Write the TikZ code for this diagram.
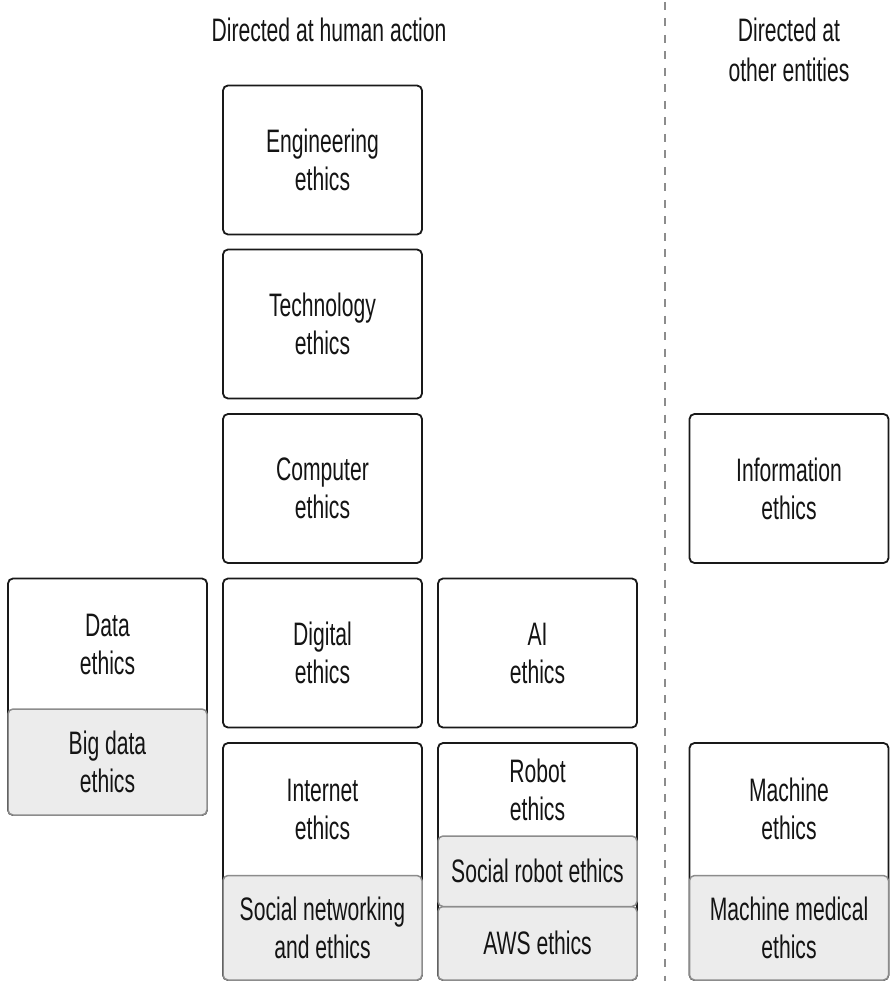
\documentclass[tikz,border=0pt]{standalone}
\usepackage{fontspec}
\setmainfont[FakeStretch=0.65]{Liberation Sans}
\usetikzlibrary{positioning}

\begin{document}
\begin{tikzpicture}[x=1pt, y=-1pt,
  txt/.style={align=center, inner sep=0pt, text=black!92, font=\fontsize{32.5}{38}\selectfont},
  heading/.style={txt, anchor=north, font=\fontsize{32.5}{40}\selectfont},
  box/.style={draw=black!90, line width=1.8pt, rounded corners=5pt, fill=white, minimum width=199pt, minimum height=149pt, inner sep=0pt, outer sep=0pt},
  subbox/.style={box, draw=black!45, line width=1.5pt, fill=black!7.5, anchor=south}]
  \useasboundingbox (0,0) rectangle (889,981);
  \node[heading] (human) at (329,18) {Directed at human action};
  \node[heading] (other) at (789,18) {Directed at\\other entities};
  \coordinate (divtop) at (665,2);
  \coordinate (divbot) at (665,981);
  \draw [draw=black!45, line width=1.3pt, dash pattern=on 8pt off 8.5pt] (divtop) -- (divbot);

  \node[box, txt] (eng) at (322.5,160) {Engineering\\ethics};
  \node[box, txt] (tech) at (322.5,324) {Technology\\ethics};
  \node[box, txt] (comp) at (322.5,488.5) {Computer\\ethics};
  \node[box, txt] (info) at (789,488.5) {Information\\ethics};
  \node[box, txt] (digital) at (322.5,653) {Digital\\ethics};
  \node[box, txt] (ai) at (537.5,653) {AI\\ethics};

  \node[box, minimum height=236.5pt] (data) at (107.5,696.75) {};
  \node[subbox, txt, minimum height=106pt] (bigdata) at (data.south) {Big data\\ethics};
  \node[txt] (datatxt) at (107.5,644) {Data\\ethics};

  \node[box, minimum height=237pt] (inet) at (322.5,861.5) {};
  \node[subbox, txt, minimum height=104.5pt] (social) at (inet.south) {Social networking\\and ethics};
  \node[txt] (inettxt) at (322.5,809) {Internet\\ethics};

  \node[box, minimum height=237pt] (robot) at (537.5,861.5) {};
  \node[subbox, txt, minimum height=73.5pt] (aws) at (robot.south) {AWS ethics};
  \node[subbox, txt, minimum height=70.5pt] (socrobot) at (aws.north) {Social robot ethics};
  \node[txt] (robottxt) at (537.5,789.5) {Robot\\ethics};

  \node[box, minimum height=237pt] (machine) at (789,861.5) {};
  \node[subbox, txt, minimum height=104.5pt] (medical) at (machine.south) {Machine medical\\ethics};
  \node[txt] (machinetxt) at (789,809) {Machine\\ethics};
\end{tikzpicture}
\end{document}
